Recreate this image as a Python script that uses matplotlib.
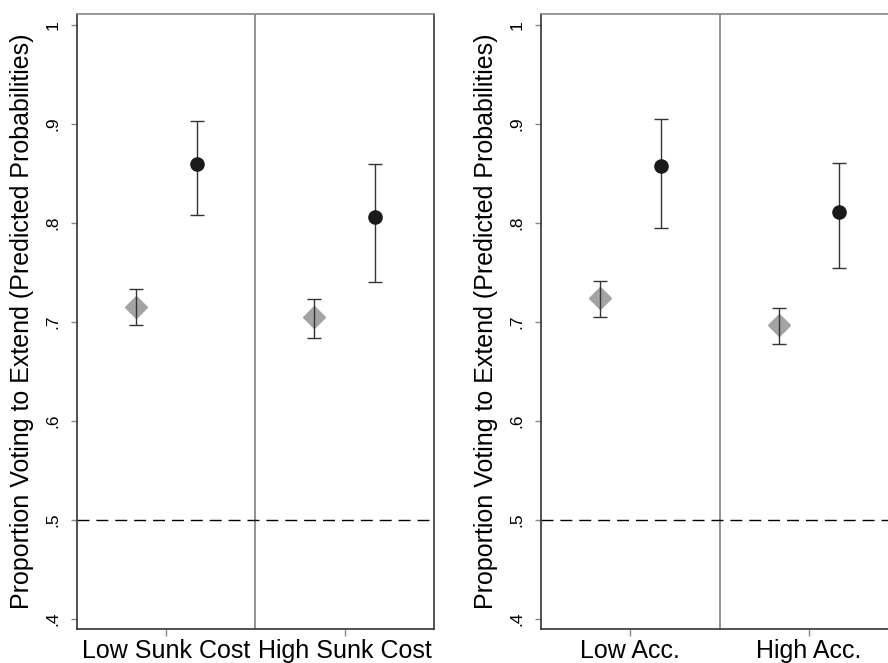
import matplotlib
matplotlib.use("Agg")
import matplotlib.pyplot as plt
import numpy as np

plt.rcParams['font.family'] = ['Liberation Sans', 'DejaVu Sans']

# data ------------------------------------------------------------------------
sunk_labels = ["Low Sunk Cost", "High Sunk Cost"]
sunk_diamond = [0.715, 0.7045]
sunk_diamond_lo = [0.697, 0.684]
sunk_diamond_hi = [0.733, 0.723]
sunk_circle = [0.859, 0.8055]
sunk_circle_lo = [0.808, 0.740]
sunk_circle_hi = [0.903, 0.859]

acc_labels = ["Low Acc.", "High Acc."]
acc_diamond = [0.724, 0.697]
acc_diamond_lo = [0.705, 0.677]
acc_diamond_hi = [0.741, 0.714]
acc_circle = [0.857, 0.811]
acc_circle_lo = [0.795, 0.7545]
acc_circle_hi = [0.905, 0.860]

yticks = [0.4, 0.5, 0.6, 0.7, 0.8, 0.9, 1.0]
ytick_labels = [".4", ".5", ".6", ".7", ".8", ".9", "1"]
ylabel = "Proportion Voting to Extend (Predicted Probabilities)"


def draw_panel(ax, labels, d, d_lo, d_hi, c, c_lo, c_hi):
    x = np.arange(1, len(labels) + 1)
    off = 0.17
    d = np.array(d)
    c = np.array(c)
    # markers first, error bars on top (stem shows through diamond)
    ax.plot(x - off, d, linestyle="none", marker="D", markersize=11,
            color="#a3a3a3", zorder=2)
    ax.errorbar(x - off, d, yerr=[d - np.array(d_lo), np.array(d_hi) - d],
                fmt="none", ecolor="#333333", elinewidth=1.0, capsize=5,
                capthick=1.0, zorder=3)
    ax.errorbar(x + off, c, yerr=[c - np.array(c_lo), np.array(c_hi) - c],
                fmt="none", ecolor="#333333", elinewidth=1.0, capsize=5,
                capthick=1.0, zorder=3)
    ax.plot(x + off, c, linestyle="none", marker="o", markersize=9.5,
            color="#1a1a1a", zorder=4)

    ax.axvline(1.5, color="#808080", lw=1.2, zorder=1)
    hl = ax.axhline(0.5, color="black", lw=1, zorder=1)
    hl.set_dashes((8.6, 5))

    ax.set_xlim(0.5, 2.5)
    ax.set_ylim(0.3895, 1.011)
    ax.set_xticks(x)
    ax.set_xticklabels(labels, fontsize=18)
    ax.set_yticks(yticks)
    ax.set_yticklabels(ytick_labels, fontsize=12.5, rotation=90, va="center")
    ax.set_ylabel(ylabel, fontsize=18, labelpad=8)
    ax.tick_params(axis="y", length=4, width=1, color="#888888", pad=8)
    ax.tick_params(axis="x", length=5, width=1, color="#888888", pad=2)
    for side in ["left", "right", "bottom"]:
        ax.spines[side].set_color("#333333")
        ax.spines[side].set_linewidth(1.2)
    ax.spines["top"].set_color("#888888")
    ax.spines["top"].set_linewidth(1.2)


fig = plt.figure(figsize=(8.88, 6.63), dpi=100)
ax1 = fig.add_axes([0.0867, 0.0513, 0.4020, 0.9276])
ax2 = fig.add_axes([0.6092, 0.0513, 0.4026, 0.9276])

draw_panel(ax1, sunk_labels, sunk_diamond, sunk_diamond_lo, sunk_diamond_hi,
           sunk_circle, sunk_circle_lo, sunk_circle_hi)
draw_panel(ax2, acc_labels, acc_diamond, acc_diamond_lo, acc_diamond_hi,
           acc_circle, acc_circle_lo, acc_circle_hi)

fig.savefig("out.png", dpi=100)
